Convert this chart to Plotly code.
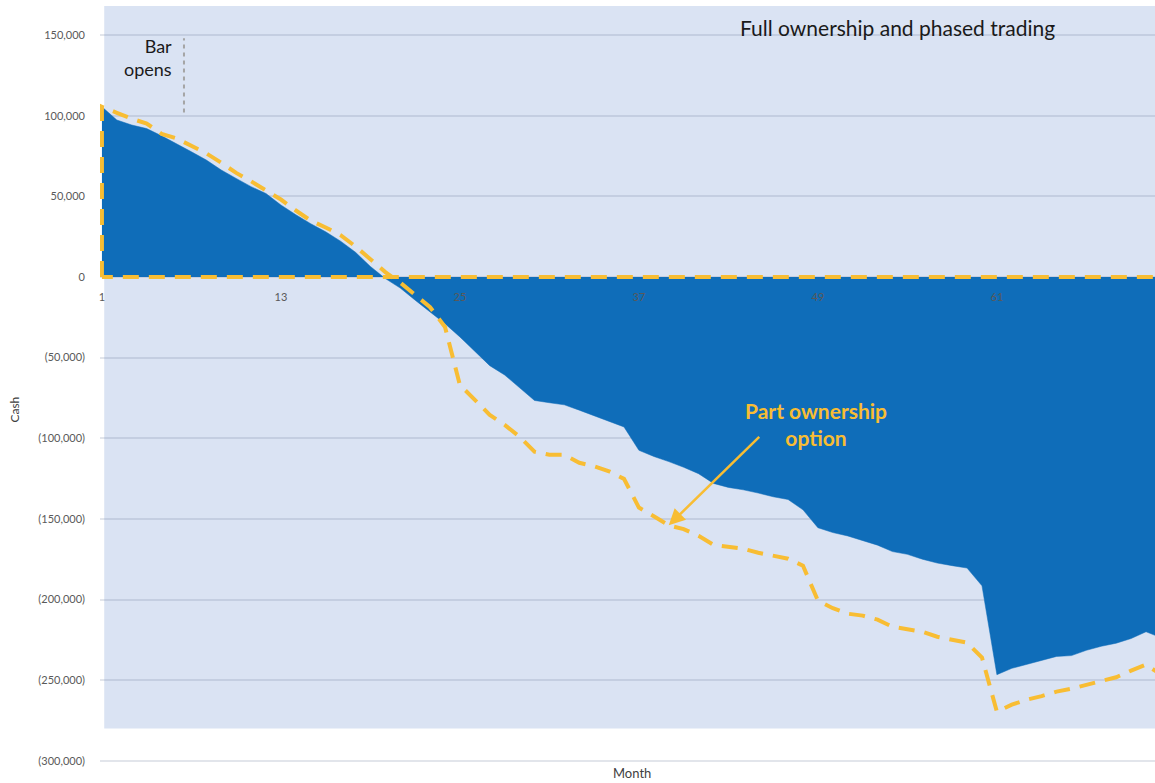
import plotly.graph_objects as go

# Monthly cash position (GBP) for the two scenarios
months = list(range(1, 73))

full_ownership = [
    105500, 97300, 94200, 92000, 87500, 82800, 77600, 72500, 66300, 61100,
    56000, 51700, 44600, 38600, 33000, 28000, 22200, 15300, 6500, -1000,
    -6900, -14400, -21800, -29000, -37200, -46400, -55000, -60800, -68700, -76600,
    -78000, -79300, -82600, -86100, -89500, -93000, -107500, -111300, -114500, -118000,
    -122000, -128000, -130500, -132000, -134000, -136300, -138000, -144400, -155500, -158500,
    -160600, -163300, -166300, -170300, -172000, -175000, -177400, -179000, -180500, -191500,
    -246600, -242700, -240300, -237800, -235300, -234800, -231500, -229000, -227100, -224200,
    -220000, -223700,
]

part_ownership = [
    105500, 101800, 98100, 95100, 88700, 85900, 81200, 76600, 70800, 64500,
    59300, 53700, 48000, 41200, 34900, 30700, 25900, 18900, 11200, 3000,
    -3500, -11200, -18800, -31000, -67000, -76200, -85500, -91700, -99100, -108400,
    -110300, -110300, -115200, -117400, -120500, -125200, -143000, -148400, -154000, -156400,
    -160500, -166100, -167300, -168500, -171000, -172900, -174700, -179100, -200700, -205400,
    -208800, -210000, -212500, -216900, -218400, -220000, -223100, -225200, -226800, -236000,
    -269600, -265200, -262100, -259900, -257100, -255300, -252800, -250300, -248200, -244100,
    -240400, -246600,
]

x_tick_vals = [1, 13, 25, 37, 49, 61]
x_tick_text = ["1", "13", "25", "37", "49", "61"]
y_tick_vals = [-300000, -250000, -200000, -150000, -100000, -50000, 0, 50000, 100000, 150000]

bar_opens_month = 6.5
arrow_month = 39

BLUE = "#0F6DB9"
GOLD = "#F8BD33"
PANEL = "#DAE3F3"
GRID = "rgba(110,125,155,0.2)"
TICK_FONT = dict(family="Lato, 'Open Sans', sans-serif", size=11, color="#595959")

Y_MIN, Y_MAX = -302000, 168000
X_MIN, X_MAX = 0.87, 71.6


def money(v):
    s = f"{abs(v):,}"
    return f"({s})" if v < 0 else s


y_tick_text = [money(v) for v in y_tick_vals]

fig = go.Figure()

# Full ownership: solid area down to zero
fig.add_trace(go.Scatter(
    x=months, y=full_ownership, mode="lines",
    line=dict(color=BLUE, width=0.5), fill="tozeroy", fillcolor=BLUE,
    hoverinfo="skip", showlegend=False,
))

# Part ownership: dashed outline of the area, including its zero baseline
outline_x = [months[0]] + months + [months[-1], months[0]]
outline_y = [0] + part_ownership + [0, 0]
fig.add_trace(go.Scatter(
    x=outline_x, y=outline_y, mode="lines",
    line=dict(color=GOLD, width=4, dash="16px,10px"),
    hoverinfo="skip", showlegend=False, cliponaxis=False,
))

shapes = [
    # light panel behind the series
    dict(type="rect", xref="paper", yref="y", x0=0.004, x1=1, y0=-280000, y1=Y_MAX,
         fillcolor=PANEL, line=dict(width=0), layer="below"),
    # marker for the bar opening
    dict(type="line", xref="x", yref="y", x0=bar_opens_month, x1=bar_opens_month,
         y0=102000, y1=148000, line=dict(color="#A5A5A5", width=2, dash="4px,4px")),
]

annotations = [
    dict(text="Full ownership and phased trading", xref="paper", yref="paper",
         x=0.756, y=0.971, xanchor="center", yanchor="middle", showarrow=False,
         font=dict(family="Lato, sans-serif", size=21, color="#1A1A1A")),
    dict(text="Bar<br>opens", xref="paper", yref="paper", x=0.070, y=0.932,
         xanchor="right", yanchor="middle", align="right", showarrow=False,
         font=dict(family="Lato, sans-serif", size=18, color="#1A1A1A")),
    dict(text="<b>Part ownership<br>option</b>", xref="paper", yref="paper",
         x=0.679, y=0.449, xanchor="center", yanchor="middle", align="center",
         showarrow=False, font=dict(family="Lato, sans-serif", size=21, color=GOLD)),
    dict(text="", x=arrow_month, y=part_ownership[arrow_month - 1], xref="x", yref="y",
         showarrow=True, ax=92, ay=-90, arrowhead=2, arrowsize=1.3, arrowwidth=2.5,
         arrowcolor=GOLD, standoff=0),
    dict(text="Cash", xref="paper", yref="paper", x=-0.0806, y=0.4675, textangle=-90,
         xanchor="center", yanchor="middle", showarrow=False,
         font=dict(family="Lato, sans-serif", size=12, color="#404040")),
    dict(text="Month", xref="paper", yref="paper", x=0.504, y=-0.012,
         xanchor="center", yanchor="middle", showarrow=False,
         font=dict(family="Lato, sans-serif", size=13, color="#404040")),
]

zero_pos = (0 - Y_MIN) / (Y_MAX - Y_MIN)

fig.update_layout(
    width=1155, height=783, autosize=False,
    margin=dict(l=100, r=0, t=6, b=19),
    paper_bgcolor="white", plot_bgcolor="rgba(0,0,0,0)",
    shapes=shapes, annotations=annotations,
    xaxis=dict(range=[X_MIN, X_MAX], anchor="free", position=zero_pos,
               tickmode="array", tickvals=x_tick_vals, ticktext=x_tick_text,
               tickfont=TICK_FONT, showgrid=False, zeroline=False, showline=False,
               ticks="", ticklabelstandoff=12),
    yaxis=dict(range=[Y_MIN, Y_MAX], tickmode="array", tickvals=y_tick_vals,
               ticktext=y_tick_text, tickfont=TICK_FONT, showgrid=True,
               gridcolor=GRID, gridwidth=1.5, zeroline=False, showline=False,
               ticks="", ticklabelstandoff=14),
)

fig.write_html("out.html")
